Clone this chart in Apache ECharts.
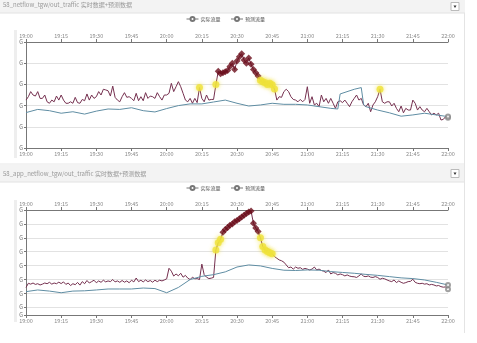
<!DOCTYPE html>
<html><head><meta charset="utf-8">
<script src="https://cdn.jsdelivr.net/npm/echarts@6/dist/echarts.min.js"></script>
<style>html,body{margin:0;padding:0;background:#fff}#c{width:477px;height:343px}</style>
</head><body><div id="c"></div>
<script>
// ---- tick labels (minutes from 19:00 every 15) ----
const timeLabels = ['19:00','19:15','19:30','19:45','20:00','20:15','20:30','20:45','21:00','21:15','21:30','21:45','22:00'];
const seriesNames = ['实际流量','预测流量'];
const titles = ['58_netflow_tgw/out_traffic 实时数据+预测数据','58_app_netflow_tgw/out_traffic 实时数据+预测数据'];

// ---- top chart: actual, one value per minute 19:00..22:00 ----
const actualTop = [
2.26,2.42,2.66,2.5,2.45,2.66,2.34,2.34,2.5,2.18,
2.11,2.26,2.18,2.45,2.26,2.5,2.26,2.11,2.11,2.18,
2.11,2.39,2.14,2.11,2.29,2.23,2.55,2.26,2.5,2.34,
2.42,2.66,2.5,2.77,2.74,2.70,2.45,2.92,2.39,2.26,
2.18,2.42,2.61,2.39,2.42,2.34,2.23,2.58,2.23,2.42,
2.23,2.61,2.34,2.45,2.42,2.34,2.61,2.42,2.26,2.5,
2.5,2.58,3.05,2.66,2.89,3.13,2.89,2.58,2.26,2.18,
2.34,2.11,2.34,2.14,2.85,2.34,2.18,2.5,2.26,2.29,
2.29,2.99,3.62,3.5,3.55,3.6,3.65,3.85,4.0,3.7,
4.1,4.3,4.45,4.15,4.0,4.25,3.95,3.7,3.55,3.4,
3.2,3.12,3.08,3.0,3.05,2.98,2.78,2.26,2.42,2.39,
2.66,2.77,2.66,2.42,2.29,2.26,2.18,2.29,2.18,2.29,
2.89,2.11,2.42,2.03,2.11,1.95,2.5,2.18,2.34,2.11,
2.34,2.11,1.87,2.18,2.23,2.14,2.26,2.11,1.95,2.18,
2.34,2.5,2.26,2.34,2.03,1.95,2.11,1.71,2.03,2.18,
2.42,2.77,2.18,2.11,2.18,2.18,1.98,2.11,1.87,1.71,
1.98,1.66,1.87,1.79,1.79,2.26,2.11,1.79,1.95,1.79,
1.71,1.87,1.71,1.56,1.64,1.56,1.64,1.32,1.35,1.48,
1.43];
const predTopMin = [0,5,10,15,20,25,30,35,40,45,50,55,60,65,70,75,80,85,90,95,100,105,110,115,120,125,130,133,134,140,143,144,145,150,155,160,165,170,175,180];
const predTopVal = [1.67,1.82,1.76,1.64,1.71,1.6,1.74,1.84,1.82,1.9,1.76,1.7,1.86,2.0,2.08,2.08,2.17,2.26,2.11,1.98,2.03,2.11,2.06,2.06,2.03,1.95,1.87,1.84,2.55,2.77,2.85,2.05,1.95,1.79,1.66,1.5,1.56,1.64,1.56,1.48];
const darkTopMin = [82,83,84,85,86,87,88,89,90,91,92,93,94,95,96,97,98,99];
const yellowTopMin = [74,81,100,101,102,103,104,105,106,151];

// ---- bottom chart ----
const actualBot = [
1.98,2.28,2.22,2.3,2.2,2.25,2.16,2.22,2.3,2.25,
2.35,2.22,2.3,2.25,2.36,2.26,2.38,2.2,2.3,2.12,
2.25,2.18,2.34,2.15,2.4,2.25,2.48,2.3,2.4,2.5,
2.32,2.45,2.35,2.5,2.38,2.45,2.4,2.55,2.38,2.45,
2.35,2.48,2.36,2.45,2.32,2.5,2.38,2.66,2.4,2.5,
2.38,2.52,2.4,2.48,2.36,2.5,2.4,2.5,2.45,2.52,
2.6,3.36,3.15,2.8,2.95,2.82,3.0,2.72,2.85,2.65,
2.55,2.72,2.6,2.62,2.55,3.66,2.9,2.72,2.62,2.65,
2.7,4.68,5.2,5.45,5.95,6.15,6.3,6.45,6.55,6.7,
6.8,6.92,7.05,7.18,7.3,7.4,7.48,6.6,6.25,6.0,
5.55,4.92,4.68,4.56,4.48,4.4,4.2,4.08,3.96,3.9,
3.8,3.6,3.4,3.45,3.3,3.45,3.36,3.4,3.28,3.35,
3.3,3.24,3.3,3.45,3.24,3.3,3.2,3.15,3.05,3.24,
2.95,3.05,3.0,2.88,2.95,2.9,2.81,2.88,2.8,2.76,
2.75,2.7,2.81,2.95,2.78,2.76,2.81,2.72,2.7,2.76,
2.7,2.57,2.64,2.6,2.52,2.45,2.4,2.52,2.33,2.45,
2.35,2.28,2.33,2.4,2.42,2.57,2.35,2.28,2.25,2.28,
2.22,2.25,2.16,2.2,2.16,2.09,2.12,2.04,2.0,2.02,
1.85];
const predBotMin = [0,5,10,15,20,25,30,35,40,45,50,55,60,65,70,75,80,85,90,95,100,105,110,115,120,125,130,135,140,145,150,155,160,165,170,175,180];
const predBotVal = [1.68,1.8,1.72,1.6,1.72,1.74,1.8,1.87,1.87,1.87,1.94,1.9,1.6,1.98,2.55,2.78,2.9,3.1,3.45,3.6,3.53,3.35,3.22,3.2,3.24,3.22,3.12,3.06,3.0,2.92,2.85,2.76,2.67,2.62,2.52,2.35,2.16];
const darkBotMin = [84,85,86,87,88,89,90,91,92,93,94,95,96,97,98,99];
const yellowBotMin = [81,82,83,100,101,102,103,104,105];
const BOT_AXIS_MAX = 7.55; // bottom chart axis runs top-down (partial band at bottom)

const FONT = '"Noto Sans CJK SC","Noto Sans",sans-serif';
const C_ACT = '#75304f', C_PRED = '#5f8da3', C_DARK = '#6a0c1a', C_YEL = '#efe23a';

const chart = echarts.init(document.getElementById('c'), null, {renderer:'canvas'});
const fmt = v => timeLabels[Math.round(v/15)];

function xAxes(grid){
  const base = {type:'value', gridIndex:grid, min:0, max:180, interval:15,
    axisLine:{onZero:false, lineStyle:{color:'#777', width:1}},
    axisTick:{length:3, lineStyle:{color:'#777'}},
    axisLabel:{formatter:fmt, color:'#8a8a8a', fontSize:5.5, fontFamily:FONT, margin:3},
    splitLine:{show:false}};
  return [Object.assign({position:'top'}, base), Object.assign({position:'bottom'}, base)];
}
function yAxis(grid, opts){
  return Object.assign({type:'value', gridIndex:grid, interval:1,
    axisLine:{show:true, lineStyle:{color:'#777'}},
    axisTick:{show:true, length:2, lineStyle:{color:'#777'}},
    axisLabel:{formatter:()=> 'G', color:'#666', fontSize:5.5, fontFamily:FONT, margin:3},
    splitLine:{show:true, lineStyle:{color:'#e2e2e2', width:1}}}, opts);
}

function lineSeries(name, xi, yi, data, color){
  return {type:'line', name, xAxisIndex:xi, yAxisIndex:yi, data, symbol:'emptyCircle', showSymbol:false,
    lineStyle:{color, width:1}, itemStyle:{color}, animation:false, silent:true};
}
function marks(xi, yi, data, kind){
  const s = {type:'scatter', xAxisIndex:xi, yAxisIndex:yi, data, animation:false, silent:true, z:5};
  if (kind==='dark'){ s.symbol='diamond'; s.symbolSize=7; s.itemStyle={color:C_DARK}; }
  else if (kind==='yellow'){ s.symbol='circle'; s.symbolSize=7; s.itemStyle={color:C_YEL, shadowBlur:4, shadowColor:'rgba(240,225,60,0.9)'}; }
  else { s.symbol='emptyCircle'; s.symbolSize=4; s.itemStyle={color:'#888', borderWidth:1}; }
  return s;
}

const actTopData = actualTop.map((v,i)=>[i,v]);
const predTopData = predTopMin.map((m,i)=>[m,predTopVal[i]]);
const flip = v => BOT_AXIS_MAX - v;
const actBotData = actualBot.map((v,i)=>[i,flip(v)]);
const predBotData = predBotMin.map((m,i)=>[m,flip(predBotVal[i])]);

const legendBase = {data:seriesNames, itemWidth:12, itemHeight:5, itemGap:10,
  textStyle:{color:'#555', fontSize:5, fontFamily:FONT, padding:[0,0,0,-3]},
  itemStyle:{color:'#777', borderWidth:1}, lineStyle:{color:'#777', width:1}, selectedMode:false};

const bars = [];
function titleBar(y, h){
  bars.push({type:'rect', shape:{x:0,y:y,width:465,height:h}, style:{fill:'#f3f3f3'}, silent:true, z:-10});
  bars.push({type:'line', shape:{x1:0,y1:y+h,x2:465,y2:y+h}, style:{stroke:'#e2e2e2', lineWidth:1}, silent:true, z:-9});
  bars.push({type:'rect', shape:{x:451,y:y+h/2-4,width:8,height:8}, style:{fill:'#fff', stroke:'#bbb', lineWidth:1}, silent:true});
  bars.push({type:'polygon', shape:{points:[[453.5,y+h/2-1],[456.5,y+h/2-1],[455,y+h/2+1.5]]}, style:{fill:'#333'}, silent:true});
}
titleBar(0,13);
titleBar(165,17);
bars.push({type:'line', shape:{x1:0,y1:164,x2:465,y2:164}, style:{stroke:'#e6e6e6'}, silent:true});
bars.push({type:'line', shape:{x1:464.5,y1:13,x2:464.5,y2:333}, style:{stroke:'#e4e4e4'}, silent:true});
bars.push({type:'rect', shape:{x:14,y:30,width:3,height:128}, style:{fill:'#eeeeee'}, silent:true, z:-10});
bars.push({type:'rect', shape:{x:14,y:200,width:3,height:122}, style:{fill:'#eeeeee'}, silent:true, z:-10});

chart.setOption({
  animation:false,
  textStyle:{fontFamily:FONT},
  title:[
    {text:titles[0], left:3, top:2, padding:0, textStyle:{color:'#9a9a9a', fontSize:6, fontWeight:'normal', fontFamily:FONT}},
    {text:titles[1], left:3, top:171, padding:0, textStyle:{color:'#9a9a9a', fontSize:6, fontWeight:'normal', fontFamily:FONT}}
  ],
  legend:[
    Object.assign({left:186, top:16, padding:0}, legendBase),
    Object.assign({left:186, top:185, padding:0}, legendBase)
  ],
  graphic:bars,
  grid:[
    {left:26, right:29, top:42, height:106, containLabel:false},
    {left:26, right:29, top:210, height:105, containLabel:false}
  ],
  xAxis:[...xAxes(0), ...xAxes(1)],
  yAxis:[
    yAxis(0,{min:0,max:5}),
    yAxis(1,{min:0,max:BOT_AXIS_MAX,inverse:true})
  ],
  series:[
    lineSeries(seriesNames[0],1,0,actTopData,C_ACT),
    lineSeries(seriesNames[1],1,0,predTopData,C_PRED),
    marks(1,0,darkTopMin.map(m=>[m,actualTop[m]]),'dark'),
    marks(1,0,yellowTopMin.map(m=>[m,actualTop[m]]),'yellow'),
    marks(1,0,[[180,actualTop[180]],[180,predTopVal[predTopVal.length-1]]],'end'),
    lineSeries(seriesNames[0],3,1,actBotData,C_ACT),
    lineSeries(seriesNames[1],3,1,predBotData,C_PRED),
    marks(3,1,darkBotMin.map(m=>[m,flip(actualBot[m])]),'dark'),
    marks(3,1,yellowBotMin.map(m=>[m,flip(actualBot[m])]),'yellow'),
    marks(3,1,[[180,flip(actualBot[180])],[180,flip(predBotVal[predBotVal.length-1])]],'end')
  ]
});
</script></body></html>
